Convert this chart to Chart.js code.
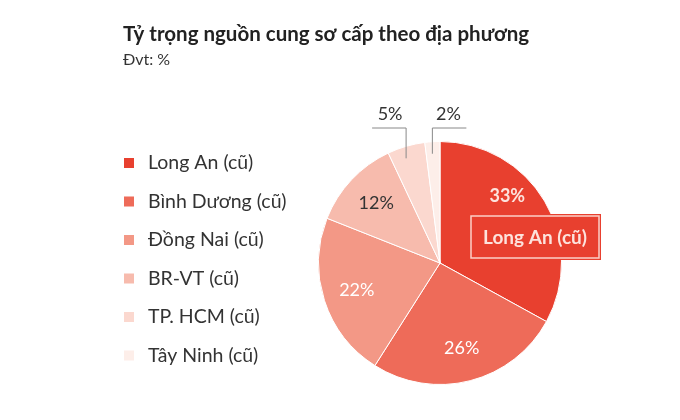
<!DOCTYPE html>
<html><head><meta charset="utf-8">
<script src="https://cdn.jsdelivr.net/npm/chart.js@4"></script>
<style>html,body{margin:0;background:#fff}#c{display:block}</style>
</head><body>
<div style="width:680px;height:420px"><canvas id="c"></canvas></div>
<script>
const categories = ['Long An (cũ)', 'Bình Dương (cũ)', 'Đồng Nai (cũ)', 'BR-VT (cũ)', 'TP. HCM (cũ)', 'Tây Ninh (cũ)'];
const shares = [33, 26, 22, 12, 5, 2];
const colors = ['#e8402f', '#ee6b59', '#f39886', '#f7bbad', '#fbd8cf', '#fdeee9'];
const labelColors = ['#fde3dd', '#ffffff', '#ffffff', '#333333', null, null];
const FONT = 'Lato, "Open Sans", sans-serif';

const overlay = {
    id: 'overlay',
    afterDraw: (chart) => {
        const ctx = chart.ctx;
        ctx.save();
        ctx.fillStyle = '#222';
        ctx.font = 'bold 20.5px ' + FONT;
        ctx.textBaseline = 'middle';
        ctx.fillText('Tỷ trọng nguồn cung sơ cấp theo địa phương', 123, 34);
        ctx.font = '16px ' + FONT;
        ctx.fillStyle = '#333';
        ctx.fillText('Đvt: %', 123, 60);

        // legend
        categories.forEach((name, i) => {
            const y = 163 + i * 38.5;
            ctx.fillStyle = colors[i];
            ctx.fillRect(124, y - 5, 10, 10);
            ctx.fillStyle = '#333';
            ctx.font = '19.5px ' + FONT;
            ctx.fillText(name, 148, y);
        });

        // slice labels
        const arcs = chart.getDatasetMeta(0).data;
        ctx.textAlign = 'center';
        arcs.forEach((arc, i) => {
            const mid = (arc.startAngle + arc.endAngle) / 2;
            if (labelColors[i]) {
                const r = arc.outerRadius * 0.72;
                ctx.fillStyle = labelColors[i];
                ctx.font = (i === 0 ? 'bold ' : '') + '18px ' + FONT;
                const px = arc.x + Math.cos(mid) * r;
                const py = arc.y + Math.sin(mid) * r;
                ctx.fillText(shares[i] + '%', i === 0 ? px - 8 : px, i === 0 ? py - 22 : py);
            } else {
                const x = arc.x + Math.cos(mid) * arc.outerRadius;
                const y = arc.y + Math.sin(mid) * arc.outerRadius;
                const dir = i === 4 ? -1 : 1;
                ctx.strokeStyle = '#888';
                ctx.lineWidth = 1;
                ctx.beginPath();
                ctx.moveTo(x, y + 12);
                ctx.lineTo(x, 128);
                ctx.lineTo(x + dir * 34, 128);
                ctx.stroke();
                ctx.fillStyle = '#333';
                ctx.font = '18px ' + FONT;
                ctx.fillText(shares[i] + '%', x + dir * 16, 114);
            }
        });

        // callout
        ctx.fillStyle = '#e8402f';
        ctx.fillRect(469, 214, 132, 46);
        ctx.strokeStyle = '#fbd0c8';
        ctx.lineWidth = 1.5;
        ctx.strokeRect(471, 216, 128, 42);
        ctx.fillStyle = '#fde3dd';
        ctx.font = 'bold 19px ' + FONT;
        ctx.fillText(categories[0], 535, 238);
        ctx.restore();
    }
};

new Chart(document.getElementById('c'), {
    type: 'pie',
    data: {
        labels: categories,
        datasets: [{ data: shares, backgroundColor: colors, borderColor: '#ffffff', borderWidth: 1 }]
    },
    options: {
        responsive: true,
        maintainAspectRatio: false,
        animation: false,
        layout: { padding: { left: 318, right: 118, top: 141, bottom: 35 } },
        plugins: { legend: { display: false }, tooltip: { enabled: false } }
    },
    plugins: [overlay]
});
</script>
</body></html>
